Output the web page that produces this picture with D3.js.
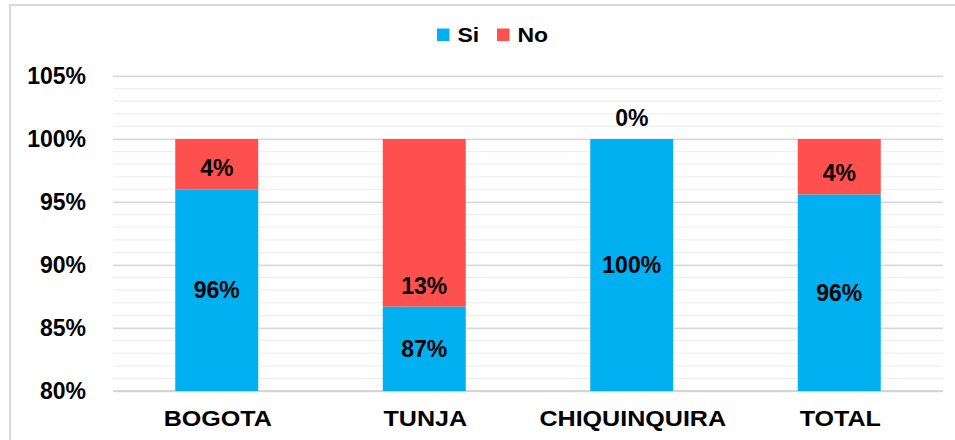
<!DOCTYPE html>
<html>
<head>
<meta charset="utf-8">
<script src="https://cdn.jsdelivr.net/npm/d3@7"></script>
<style>
  body { margin: 0; background: #fff; }
  svg { display: block; font-family: "Liberation Sans", Arial, sans-serif; font-weight: bold; }
</style>
</head>
<body>
<svg id="chart" width="955" height="440"></svg>
<script>
// data
const cities = ["BOGOTA", "TUNJA", "CHIQUINQUIRA", "TOTAL"];
const siValues = [0.96, 0.867, 1.00, 0.956];
const noValues = [0.04, 0.133, 0.00, 0.044];
const seriesNames = ["Si", "No"];
const yTicks = [0.80, 0.85, 0.90, 0.95, 1.00, 1.05];

const colors = {Si: "#00B0F0", No: "#FF5050"};

const width = 955, height = 440;
const margin = {top: 76, right: 12, bottom: 49, left: 113};

const svg = d3.select("#chart");

// outer frame of the chart area
svg.append("rect")
    .attr("x", 10).attr("y", 5)
    .attr("width", 960).attr("height", 450)
    .attr("fill", "none")
    .attr("stroke", "#d9d9d9")
    .attr("stroke-width", 2);

const x = d3.scaleBand()
    .domain(cities)
    .range([margin.left, width - margin.right])
    .paddingInner(0.6)
    .paddingOuter(0.3);

const y = d3.scaleLinear()
    .domain([0.80, 1.05])
    .range([height - margin.bottom, margin.top]);

// minor gridlines every 1%
svg.append("g")
    .selectAll("line")
    .data(d3.range(80, 106, 1).map(v => v / 100))
    .join("line")
    .attr("x1", margin.left).attr("x2", width - margin.right)
    .attr("y1", d => y(d)).attr("y2", d => y(d))
    .attr("stroke", "#efefef")
    .attr("stroke-width", 1.3);

// major gridlines + tick labels
const yAxis = svg.append("g")
    .attr("transform", `translate(${margin.left},0)`)
    .call(d3.axisLeft(y)
        .tickValues(yTicks)
        .tickFormat(d3.format(".0%"))
        .tickSize(-(width - margin.left - margin.right))
        .tickPadding(27));
yAxis.select(".domain").remove();
yAxis.selectAll(".tick line")
    .attr("stroke", "#d9d9d9")
    .attr("stroke-width", 1.3);
yAxis.selectAll(".tick text")
    .attr("fill", "#000")
    .attr("font-size", 23)
    .attr("font-weight", "bold")
    .attr("font-family", "Liberation Sans, Arial, sans-serif");

// baseline
svg.append("line")
    .attr("x1", margin.left).attr("x2", width - margin.right)
    .attr("y1", y(0.80)).attr("y2", y(0.80))
    .attr("stroke", "#d0d0d0")
    .attr("stroke-width", 1.5);

// stacked bars
const rows = cities.map((c, i) => ({city: c, Si: siValues[i], No: noValues[i]}));
const stacked = d3.stack().keys(seriesNames)(rows);

const bars = svg.append("g");
stacked.forEach(s => {
    bars.selectAll(null)
        .data(s)
        .join("rect")
        .attr("x", d => x(d.data.city))
        .attr("width", x.bandwidth())
        .attr("y", d => y(Math.min(d[1], 1.05)))
        .attr("height", d => Math.max(0, y(Math.max(d[0], 0.80)) - y(Math.min(d[1], 1.05))))
        .attr("fill", colors[s.key]);
});

// data labels: Si centred in the visible part, No just inside the base
const fmt = d3.format(".0%");
const labels = svg.append("g")
    .attr("font-size", 23)
    .attr("text-anchor", "middle")
    .attr("fill", "#000");

labels.selectAll(".lab-si")
    .data(stacked[0])
    .join("text")
    .attr("x", d => x(d.data.city) + x.bandwidth() / 2)
    .attr("y", d => (y(0.80) + y(d[1])) / 2)
    .attr("dy", "0.35em")
    .text(d => fmt(d.data.Si));

labels.selectAll(".lab-no")
    .data(stacked[1])
    .join("text")
    .attr("x", d => x(d.data.city) + x.bandwidth() / 2)
    .attr("y", d => y(d[0]) - 21)
    .attr("dy", "0.35em")
    .text(d => fmt(d.data.No));

// category labels (the source renders them a bit wider)
svg.append("g")
    .attr("font-size", 22)
    .attr("text-anchor", "middle")
    .selectAll("text")
    .data(cities)
    .join("text")
    .attr("transform", d => `translate(${x(d) + x.bandwidth() / 2 + 1},${height - margin.bottom + 27}) scale(1.14,1)`)
    .attr("dy", "0.35em")
    .text(d => d);

// legend
const legendPos = {Si: 437, No: 497};
const legend = svg.append("g");
seriesNames.forEach(k => {
    legend.append("rect")
        .attr("x", legendPos[k]).attr("y", 28.5)
        .attr("width", 12.5).attr("height", 12.5)
        .attr("fill", colors[k]);
    legend.append("text")
        .attr("transform", `translate(${legendPos[k] + 20.5},35) scale(1.15,1)`)
        .attr("dy", "0.35em")
        .attr("font-size", 20)
        .text(k);
});
</script>
</body>
</html>
